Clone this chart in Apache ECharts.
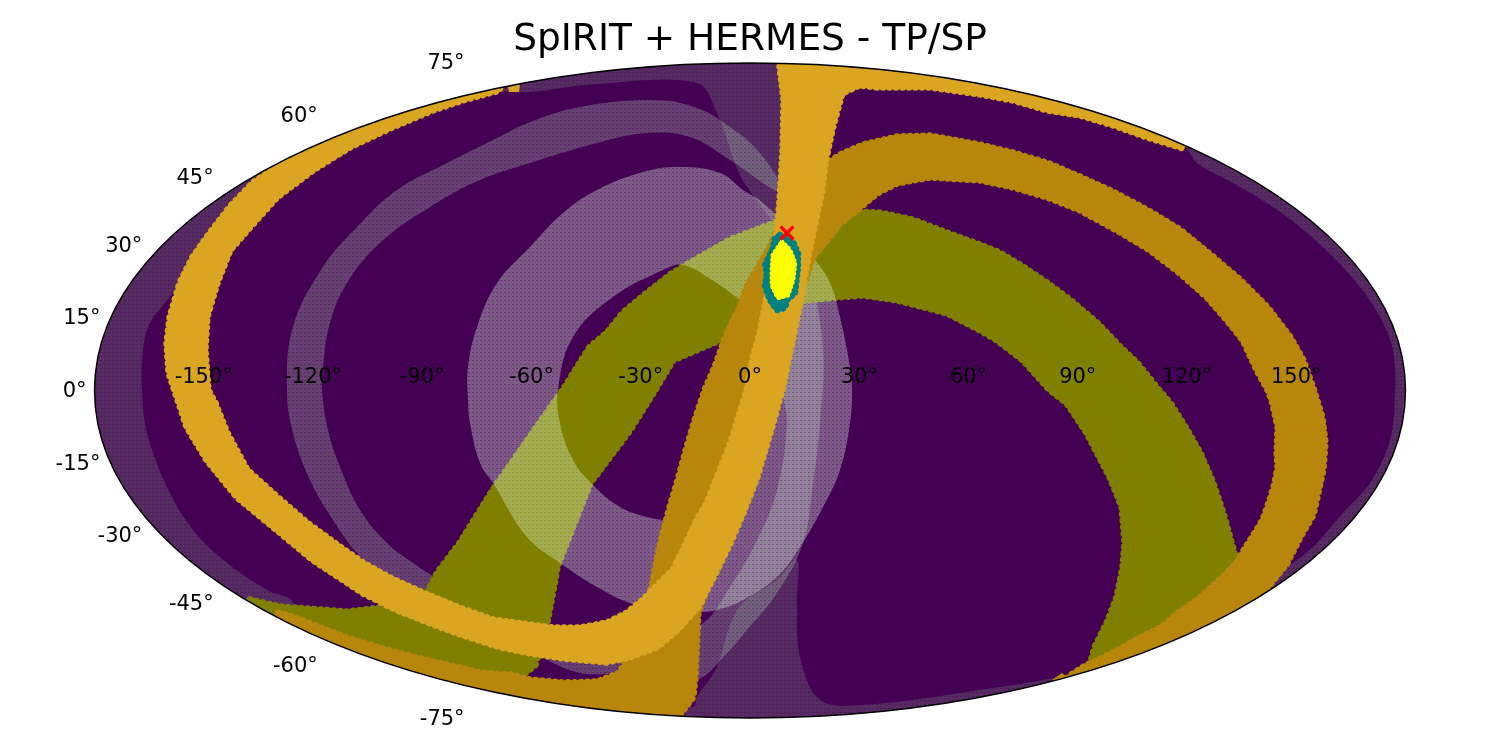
<!DOCTYPE html>
<html>
<head>
<meta charset="utf-8">
<style>html,body{margin:0;padding:0;background:#fff}#chart{width:1500px;height:750px}</style>
<script src="https://cdn.jsdelivr.net/npm/echarts@6/dist/echarts.min.js"></script>
</head>
<body>
<div id="chart"></div>
<script>
// Outlines, in Mollweide plane units (x right, y up).
const titleText = 'SpIRIT + HERMES - TP/SP';
const lonTicks = [-150,-120,-90,-60,-30,0,30,60,90,120,150];
const latTicks = [75,60,45,30,15,0,-15,-30,-45,-60,-75];

const outerFaint = [[-457,-213],[-483,-200],[-523,-173],[-557,-140],[-583,-97],[-603,-43],[-608,0],[-607,40],[-600,67],[-575,100],[-545,150],[-490,200],[-450,225],[-350,268],[-250,298],[-220,298],[-153,306],[-53,307],[-33,277],[-10,215],[7,190],[28,165],[50,165],[55,290],[150,310],[250,300],[433,244],[447,227],[483,207],[517,187],[550,163],[583,133],[610,103],[630,73],[643,40],[645,-5],[640,-50],[620,-93],[593,-123],[563,-157],[530,-183],[517,-197],[450,-230],[363,-270],[318,-285],[230,-300],[113,-315],[70,-310],[50,-267],[47,-213],[47,-170],[27,-190],[-7,-213],[-20,-235],[-33,-277],[-53,-307],[-57,-317],[-150,-310],[-300,-290],[-450,-235],[-457,-213],[-470,-260],[-470,-350],[690,-350],[690,350],[-690,350],[-690,-350],[-470,-350],[-470,-260]];

const middleRing = [[30,207],[7,240],[-20,263],[-53,282],[-97,290],[-170,283],[-220,268],[-253,252],[-303,227],[-353,200],[-393,163],[-427,123],[-457,63],[-463,0],[-457,-43],[-440,-90],[-417,-130],[-393,-163],[-370,-183],[-337,-200],[-323,-203],[-270,-235],[-203,-270],[-170,-283],[-133,-285],[-100,-295],[-53,-290],[-23,-263],[-3,-240],[27,-203],[53,-153],[63,-93],[70,-33],[73,40],[60,120],[45,175],[40,90],[33,0],[37,-33],[27,-100],[7,-150],[-20,-197],[-50,-235],[-110,-250],[-150,-255],[-210,-250],[-270,-210],[-315,-187],[-337,-173],[-363,-153],[-390,-120],[-410,-77],[-422,-40],[-428,0],[-427,23],[-420,67],[-403,107],[-370,147],[-320,183],[-270,210],[-220,227],[-153,247],[-103,257],[-60,253],[-20,230],[30,197]];

const oliveBand = [[-500,-210],[-470,-217],[-403,-222],[-370,-218],[-357,-217],[-323,-203],[-312,-182],[-290,-153],[-277,-132],[-257,-100],[-220,-47],[-187,0],[-160,43],[-143,57],[-127,77],[-103,97],[-80,115],[-67,123],[-20,150],[27,168],[97,178],[130,177],[163,170],[197,157],[230,145],[250,137],[273,123],[297,107],[320,90],[347,67],[370,43],[387,27],[407,2],[420,-13],[437,-40],[450,-63],[463,-93],[473,-123],[487,-173],[480,-195],[430,-232],[340,-275],[345,-257],[357,-233],[367,-207],[373,-177],[375,-153],[372,-117],[360,-87],[337,-43],[317,-13],[300,0],[273,30],[247,50],[230,60],[197,77],[147,90],[113,95],[87,93],[55,90],[-30,50],[-77,30],[-95,0],[-120,-40],[-150,-80],[-160,-93],[-193,-177],[-195,-190],[-203,-233],[-215,-275],[-230,-287],[-250,-285],[-350,-270],[-450,-235]];

const innerRing = [[40,155],[13,187],[-7,200],[-30,217],[-70,223],[-107,218],[-153,200],[-187,177],[-220,143],[-253,107],[-273,63],[-282,23],[-282,-10],[-280,-33],[-270,-73],[-257,-93],[-223,-147],[-190,-173],[-153,-197],[-120,-213],[-85,-222],[-50,-222],[-33,-220],[-7,-210],[27,-187],[50,-157],[73,-117],[90,-80],[100,-33],[102,0],[100,23],[90,73],[80,107],[63,133],[45,155],[35,90],[25,50],[25,0],[10,-60],[-30,-100],[-70,-128],[-83,-130],[-103,-127],[-130,-117],[-157,-95],[-177,-70],[-190,-33],[-192,0],[-177,53],[-137,93],[-87,120],[-67,125],[-38,110],[-10,90],[15,70],[25,50],[35,90]];

const darkGoldBand = [[75,225],[90,235],[113,245],[147,253],[180,254],[230,245],[263,237],[297,227],[330,213],[363,198],[397,180],[430,160],[463,133],[490,110],[517,83],[540,53],[553,30],[563,2],[572,-27],[575,-53],[573,-80],[567,-107],[563,-125],[550,-147],[537,-173],[513,-203],[520,-230],[340,-310],[318,-300],[318,-287],[337,-275],[363,-263],[390,-248],[412,-237],[430,-222],[450,-208],[468,-192],[487,-173],[493,-162],[505,-143],[513,-130],[520,-110],[525,-93],[528,-77],[527,-63],[528,-37],[522,-10],[518,0],[507,20],[493,50],[477,70],[457,93],[430,117],[400,140],[370,158],[330,180],[297,193],[263,203],[230,210],[180,213],[147,207],[127,197],[107,180],[90,167],[77,150],[63,133],[30,40],[-10,-100],[-52,-223],[-55,-287],[-57,-307],[-70,-324],[-70,-345],[-270,-315],[-470,-250],[-473,-223],[-463,-225],[-437,-235],[-403,-248],[-370,-258],[-337,-267],[-303,-275],[-270,-283],[-240,-285],[-220,-290],[-187,-293],[-153,-292],[-130,-283],[-122,-267],[-98,-197],[-93,-170],[-87,-143],[-80,-117],[-72,-90],[-63,-57],[-55,-30],[-45,0],[-35,23],[-23,57],[-10,83],[-3,103],[20,143],[28,162]];
const darkGoldChip = [[302,-290],[312,-283],[317,-287],[310,-295]];

const brightGoldBand = [[-463,230],[-497,207],[-520,183],[-540,157],[-557,133],[-570,107],[-580,73],[-583,47],[-581,17],[-573,-7],[-563,-37],[-543,-70],[-513,-107],[-473,-140],[-437,-170],[-387,-203],[-353,-220],[-320,-233],[-293,-243],[-250,-257],[-220,-263],[-187,-268],[-143,-272],[-120,-267],[-93,-257],[-73,-240],[-52,-217],[-33,-180],[-20,-153],[-7,-123],[7,-87],[20,-43],[32,0],[50,87],[58,133],[65,167],[72,200],[75,227],[82,260],[92,297],[110,305],[127,303],[180,303],[230,296],[263,290],[297,280],[330,275],[363,265],[397,253],[433,242],[440,330],[30,350],[30,323],[34,290],[33,240],[30,190],[28,167],[20,110],[10,57],[3,33],[-3,0],[-10,-23],[-20,-55],[-30,-80],[-43,-113],[-53,-130],[-67,-160],[-77,-180],[-87,-190],[-107,-210],[-123,-223],[-143,-233],[-170,-238],[-197,-238],[-220,-235],[-257,-230],[-293,-217],[-327,-203],[-360,-188],[-387,-173],[-410,-157],[-443,-133],[-473,-107],[-503,-80],[-523,-43],[-535,-13],[-542,0],[-545,40],[-543,73],[-533,107],[-520,140],[-500,163],[-473,193],[-437,220],[-400,243],[-360,262],[-317,280],[-287,290],[-250,300],[-260,330],[-470,250]];
const brightGoldChip = [[-242,303],[-230,306],[-231,298],[-241,298]];

const tealRegion = [[30,155],[43,148],[48,137],[48,123],[45,97],[37,90],[35,82],[27,80],[20,90],[15,103],[17,117],[15,125],[22,140],[25,152]];
const yellowRegion = [[32,148],[40,140],[45,127],[43,110],[38,95],[28,92],[22,105],[22,120],[23,135]];
const truePosition = [[37,157]];

const RX = 655.5, RY = 327.5, CY = -0.5;
const TEXT_FONT = '"DejaVu Sans"';

function dotted(r, g, b, alpha) {
  const c = document.createElement('canvas');
  c.width = 4; c.height = 4;
  const x = c.getContext('2d');
  x.fillStyle = 'rgba(' + r + ',' + g + ',' + b + ',' + alpha + ')';
  x.fillRect(0, 0, 4, 4);
  x.clearRect(0, 0, 2, 1);
  x.fillStyle = 'rgba(' + r + ',' + g + ',' + b + ',' + (alpha * 0.6) + ')';
  x.fillRect(0, 0, 2, 1);
  return { image: c, repeat: 'repeat' };
}

function clipShape(api) {
  const c = api.coord([0, CY]);
  const e = api.coord([RX, CY + RY]);
  return { type: 'ellipse', shape: { cx: c[0], cy: c[1], rx: e[0] - c[0], ry: c[1] - e[1] } };
}

function area(name, points, z, style, smooth) {
  return {
    type: 'custom', name, z, silent: true, animation: false,
    coordinateSystem: 'cartesian2d', data: points,
    renderItem(params, api) {
      if (params.dataIndex !== 0) return null;
      return {
        type: 'group',
        clipPath: clipShape(api),
        children: [{
          type: 'polygon',
          shape: { points: points.map(p => api.coord(p)), smooth: smooth || 0 },
          style
        }]
      };
    }
  };
}

function solid(color, w, gap) {
  return { fill: color, stroke: color, lineWidth: w, lineDash: [0.01, gap], lineCap: 'round' };
}

function theta(latDeg) {
  const target = Math.PI * Math.sin(latDeg * Math.PI / 180);
  let t = latDeg * Math.PI / 180;
  for (let i = 0; i < 40; i++) {
    t -= (2 * t + Math.sin(2 * t) - target) / (2 + 2 * Math.cos(2 * t));
  }
  return t;
}

const lonPoints = lonTicks.map(l => [l / 180 * RX, CY]);
const latPoints = latTicks.map(l => {
  const t = theta(l);
  return [-RX * Math.cos(t), CY + RY * Math.sin(t)];
});

const chart = echarts.init(document.getElementById('chart'));
chart.setOption({
  animation: false,
  backgroundColor: '#ffffff',
  title: {
    text: titleText, left: 'center', top: 16,
    textStyle: { fontFamily: TEXT_FONT, fontSize: 37.5, fontWeight: 'normal', color: '#000' }
  },
  grid: { left: 94.5, top: 63, width: 1311, height: 655, containLabel: false },
  xAxis: { type: 'value', min: -655.5, max: 655.5, show: false },
  yAxis: { type: 'value', min: -328, max: 327, show: false },
  series: [
    {
      type: 'custom', name: 'sky', z: 1, silent: true, animation: false,
      data: [[0, CY]],
      renderItem(params, api) {
        const s = clipShape(api);
        return { type: 'ellipse', shape: s.shape, style: { fill: '#440154' } };
      }
    },
    area('outer faint', outerFaint, 2, { fill: dotted(170, 255, 170, 0.17) }, 0.35),
    area('middle ring', middleRing, 3, { fill: dotted(200, 255, 200, 0.25) }, 0.4),
    area('olive', oliveBand, 4, solid('#808000', 7.5, 6.5)),
    area('inner ring', innerRing, 5, { fill: dotted(230, 255, 230, 0.35) }, 0.4),
    area('dark gold', darkGoldBand, 6, solid('#b8860b', 7.5, 6.5)),
    area('dark gold chip', darkGoldChip, 6, { fill: '#b8860b' }),
    area('bright gold', brightGoldBand, 7, solid('#daa520', 7.5, 6.5)),
    area('bright gold chip', brightGoldChip, 7, { fill: '#daa520' }),
    area('teal', tealRegion, 8, solid('#008080', 6.5, 5.5)),
    area('yellow', yellowRegion, 9, solid('#ffff00', 5, 4.5)),
    {
      type: 'custom', name: 'true position', z: 10, silent: true, animation: false,
      data: truePosition,
      renderItem(params, api) {
        const c = api.coord([api.value(0), api.value(1)]);
        const r = 6.5, st = { stroke: '#ff0000', lineWidth: 3.2 };
        return { type: 'group', children: [
          { type: 'line', shape: { x1: c[0] - r, y1: c[1] - r, x2: c[0] + r, y2: c[1] + r }, style: st },
          { type: 'line', shape: { x1: c[0] - r, y1: c[1] + r, x2: c[0] + r, y2: c[1] - r }, style: st }
        ] };
      }
    },
    {
      type: 'custom', name: 'frame', z: 11, silent: true, animation: false,
      data: [[0, CY]],
      renderItem(params, api) {
        const s = clipShape(api);
        return { type: 'ellipse', shape: s.shape, style: { fill: 'none', stroke: '#000', lineWidth: 1.4 } };
      }
    },
    {
      type: 'custom', name: 'longitude labels', z: 12, silent: true, animation: false,
      data: lonPoints,
      renderItem(params, api) {
        const c = api.coord([api.value(0), api.value(1)]);
        return { type: 'text', x: c[0], y: c[1] - 12.5, style: {
          text: lonTicks[params.dataIndex] + '°', fill: '#000', fontFamily: TEXT_FONT, fontSize: 21,
          align: 'center', verticalAlign: 'middle' } };
      }
    },
    {
      type: 'custom', name: 'latitude labels', z: 12, silent: true, animation: false,
      data: latPoints,
      renderItem(params, api) {
        const c = api.coord([api.value(0), api.value(1)]);
        const lat = latTicks[params.dataIndex];
        return { type: 'text', x: c[0] - 8, y: c[1] - lat * 0.42 + 1, style: {
          text: lat + '°', fill: '#000', fontFamily: TEXT_FONT, fontSize: 21,
          align: 'right', verticalAlign: 'middle' } };
      }
    }
  ]
});
</script>
</body>
</html>
